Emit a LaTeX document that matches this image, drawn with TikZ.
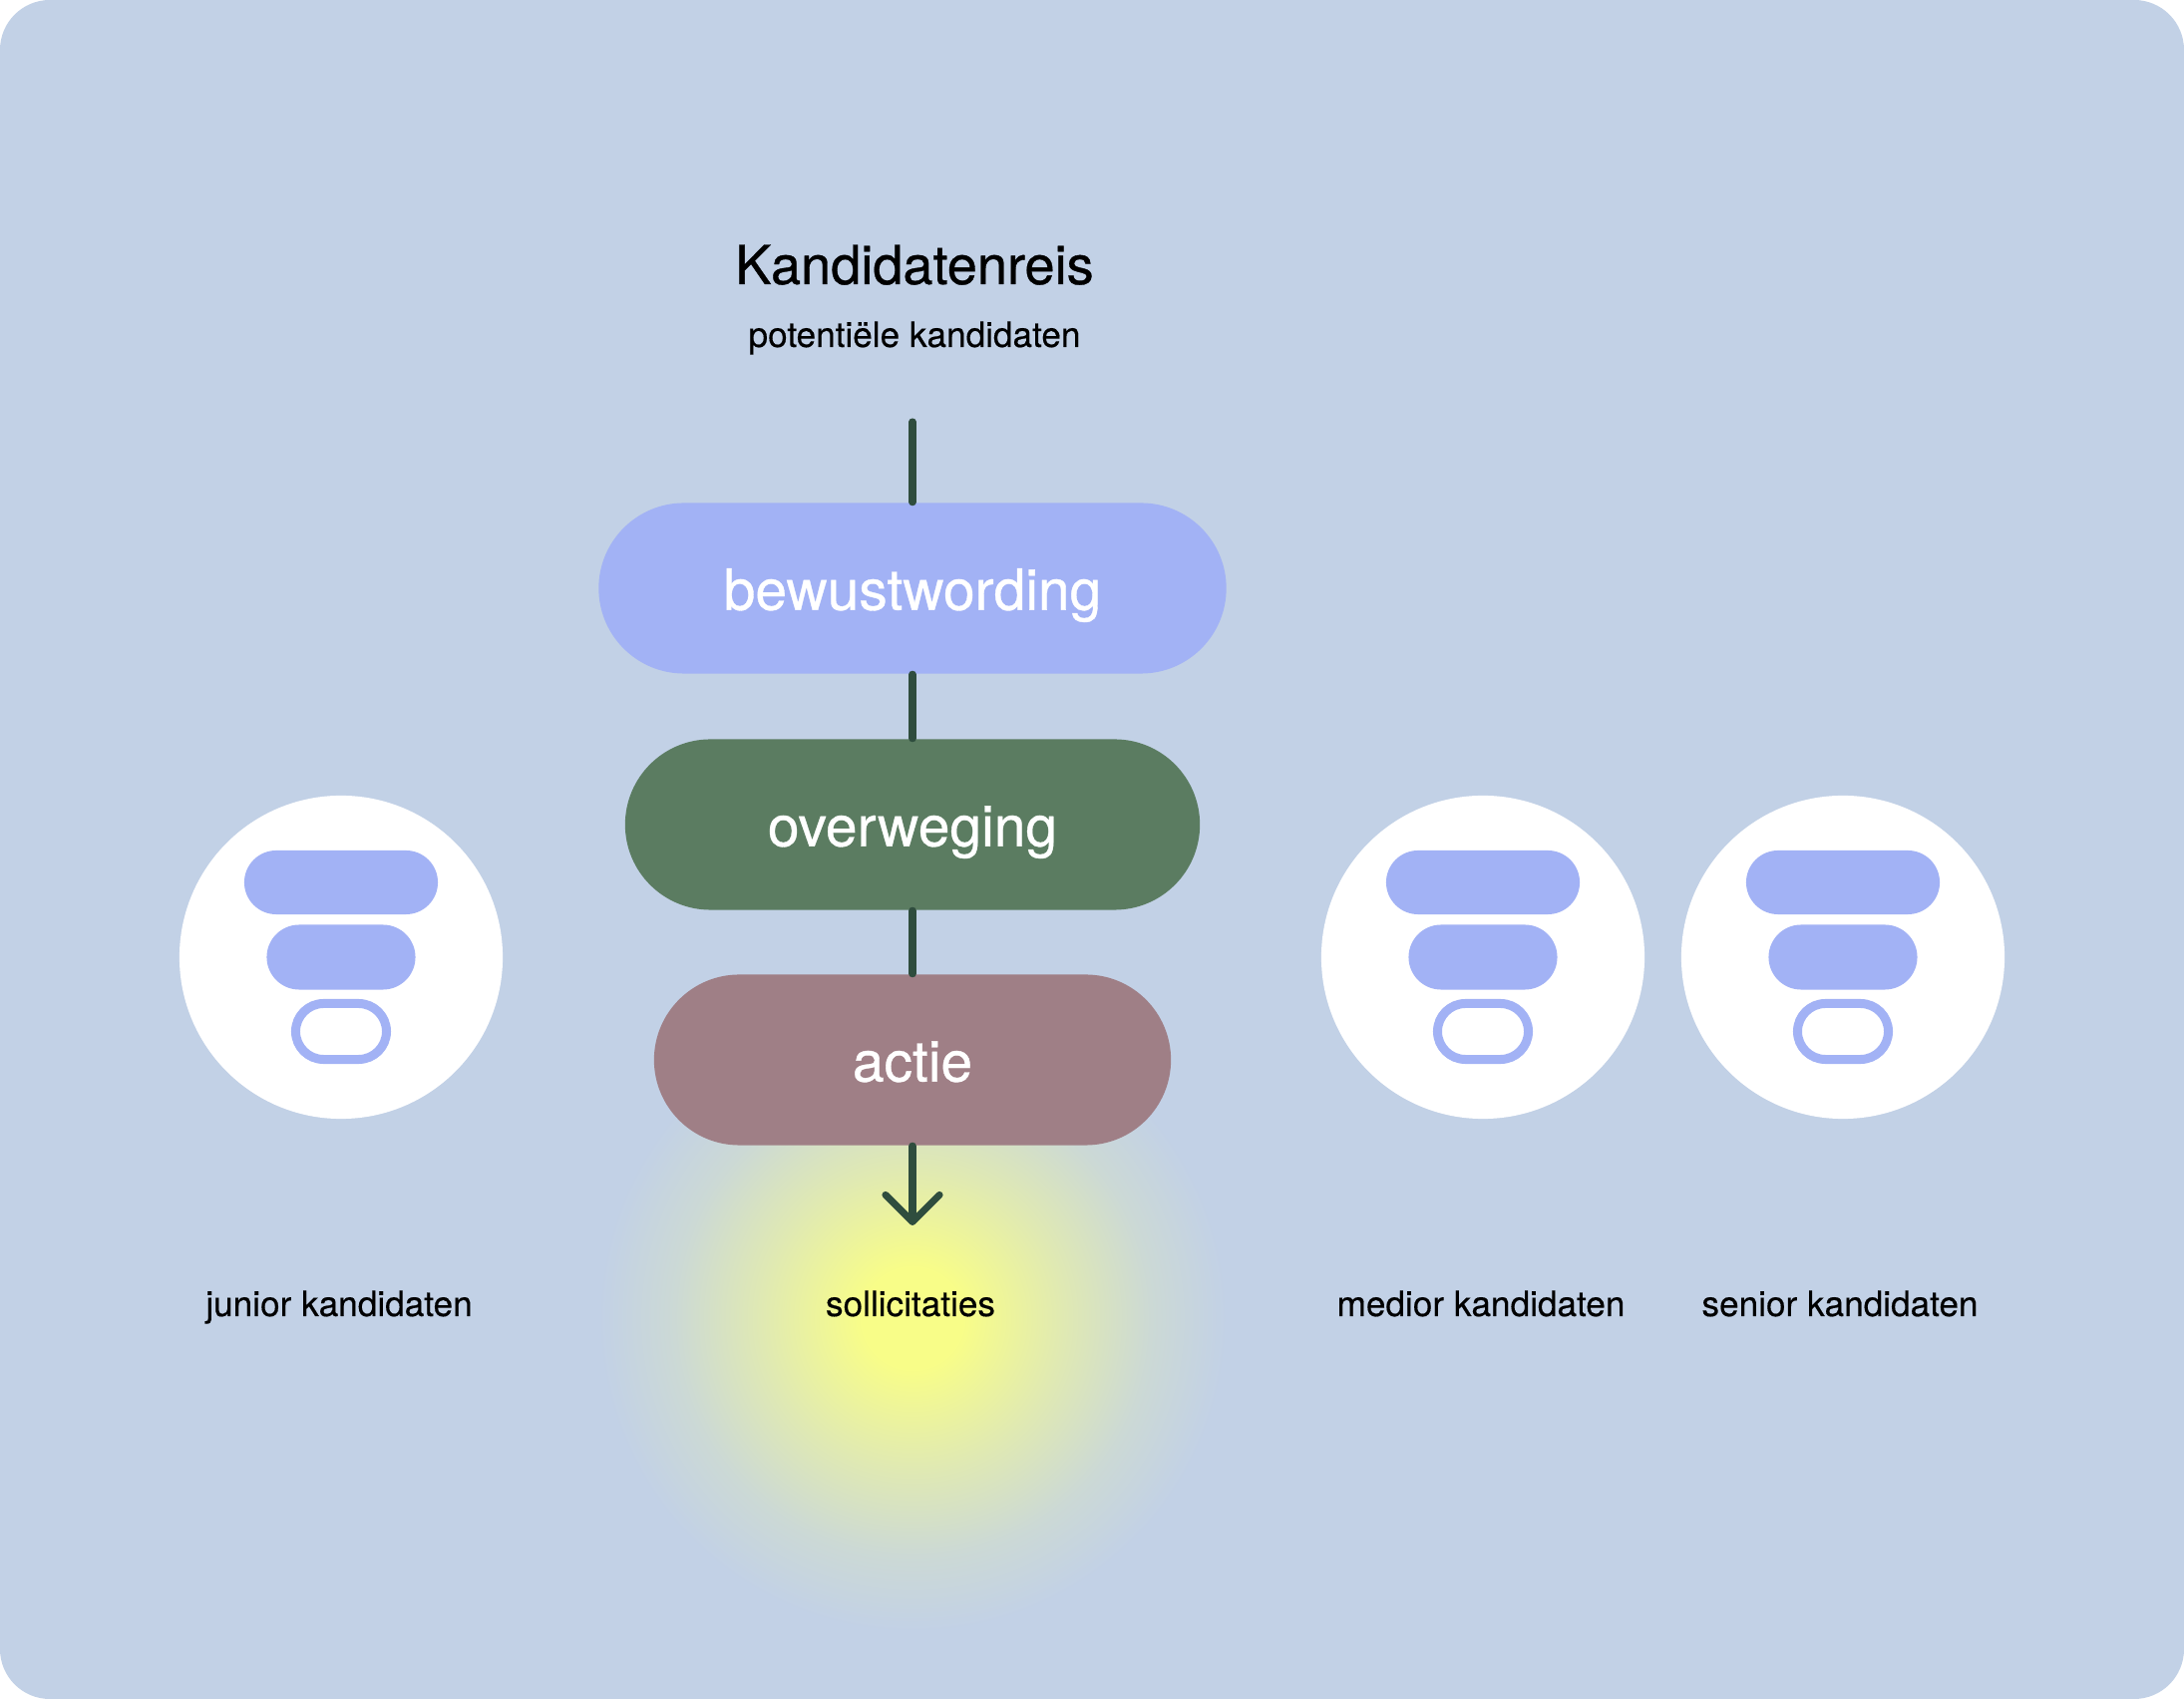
\documentclass[tikz,border=0pt]{standalone}
\usepackage{fontspec}
\setmainfont{TeX Gyre Heros}
\newfontfamily\medfont[FakeBold=0.6]{TeX Gyre Heros}
\newfontfamily\labfont[FakeBold=0.3]{TeX Gyre Heros}
\usetikzlibrary{arrows.meta}
\definecolor{bgc}{HTML}{C2D1E6}
\definecolor{pillA}{HTML}{A2B2F5}
\definecolor{pillB}{HTML}{5B7C61}
\definecolor{pillC}{HTML}{9F7F86}
\definecolor{lineC}{HTML}{2F4D3E}
\definecolor{glowY}{HTML}{F8FD88}
\colorlet{glowM}{glowY!55!bgc}
\colorlet{glowO}{glowY!18!bgc}
\pgfdeclareradialshading{glow}{\pgfpoint{0bp}{0bp}}{color(0bp)=(glowY); color(4bp)=(glowY); color(12bp)=(glowM); color(19bp)=(glowO); color(25bp)=(bgc); color(50bp)=(bgc)}
\begin{document}
\begin{tikzpicture}[x=0.01cm,y=-0.01cm,
  pill/.style={rectangle, rounded corners=0.855cm, minimum height=1.71cm, inner sep=0pt,
    text=white, font=\medfont\fontsize{16.2}{19}\selectfont, text height=12.3pt, text depth=0pt},
  conn/.style={draw=lineC, line width=2pt, line cap=round},
  lab/.style={font=\labfont\fontsize{10}{12}\selectfont, anchor=base, inner sep=0pt, text=black},
  disc/.style={circle, fill=white, minimum size=3.24cm, inner sep=0pt},
  barA/.style={rectangle, fill=pillA, minimum width=1.94cm, minimum height=0.64cm, rounded corners=0.32cm, inner sep=0pt},
  barB/.style={rectangle, fill=pillA, minimum width=1.49cm, minimum height=0.65cm, rounded corners=0.325cm, inner sep=0pt},
  barC/.style={rectangle, draw=pillA, fill=white, line width=2.56pt, minimum width=0.91cm, minimum height=0.56cm, rounded corners=0.28cm, inner sep=0pt}
]
\useasboundingbox (0,0) rectangle (2190,1704);
\fill[white] (0,0) rectangle (2190,1704);
\fill[bgc, rounded corners=0.5cm] (0,0) rectangle (2190,1704);

% glow
\path[shading=glow] (915,1322) circle (3.15cm);

% title
\node[lab, font=\medfont\fontsize{15.4}{18}\selectfont] (title) at (917,285) {Kandidatenreis};
\node[lab] (sub) at (917,348) {potentiële kandidaten};

% funnel steps
\coordinate (top) at (915,423);
\coordinate (tip) at (915,1229);
\node[pill, fill=pillA, minimum width=6.29cm] (b1) at (915,590) {bewustwording};
\node[pill, fill=pillB, minimum width=5.76cm] (b2) at (915,827) {overweging};
\node[pill, fill=pillC, minimum width=5.18cm] (b3) at (915,1063) {actie};

\draw[conn] (top) -- (b1);
\draw[conn] (b1) -- (b2);
\draw[conn] (b2) -- (b3);
\draw[conn, -{Straight Barb[round, length=7.7pt, width=15.4pt]}] (b3) -- (tip);

% icons
\foreach \n/\x in {c1/342, c2/1487, c3/1848}{
  \node[disc] (\n) at (\x,960) {};
  \node[barA] (\n a) at (\x,885) {};
  \node[barB] (\n b) at (\x,960) {};
  \node[barC] (\n c) at (\x,1034.5) {};
}

% labels
\node[lab] (l1) at (340,1320) {junior kandidaten};
\node[lab] (l2) at (913,1320) {sollicitaties};
\node[lab] (l3) at (1485,1320) {medior kandidaten};
\node[lab] (l4) at (1845,1320) {senior kandidaten};
\end{tikzpicture}
\end{document}
